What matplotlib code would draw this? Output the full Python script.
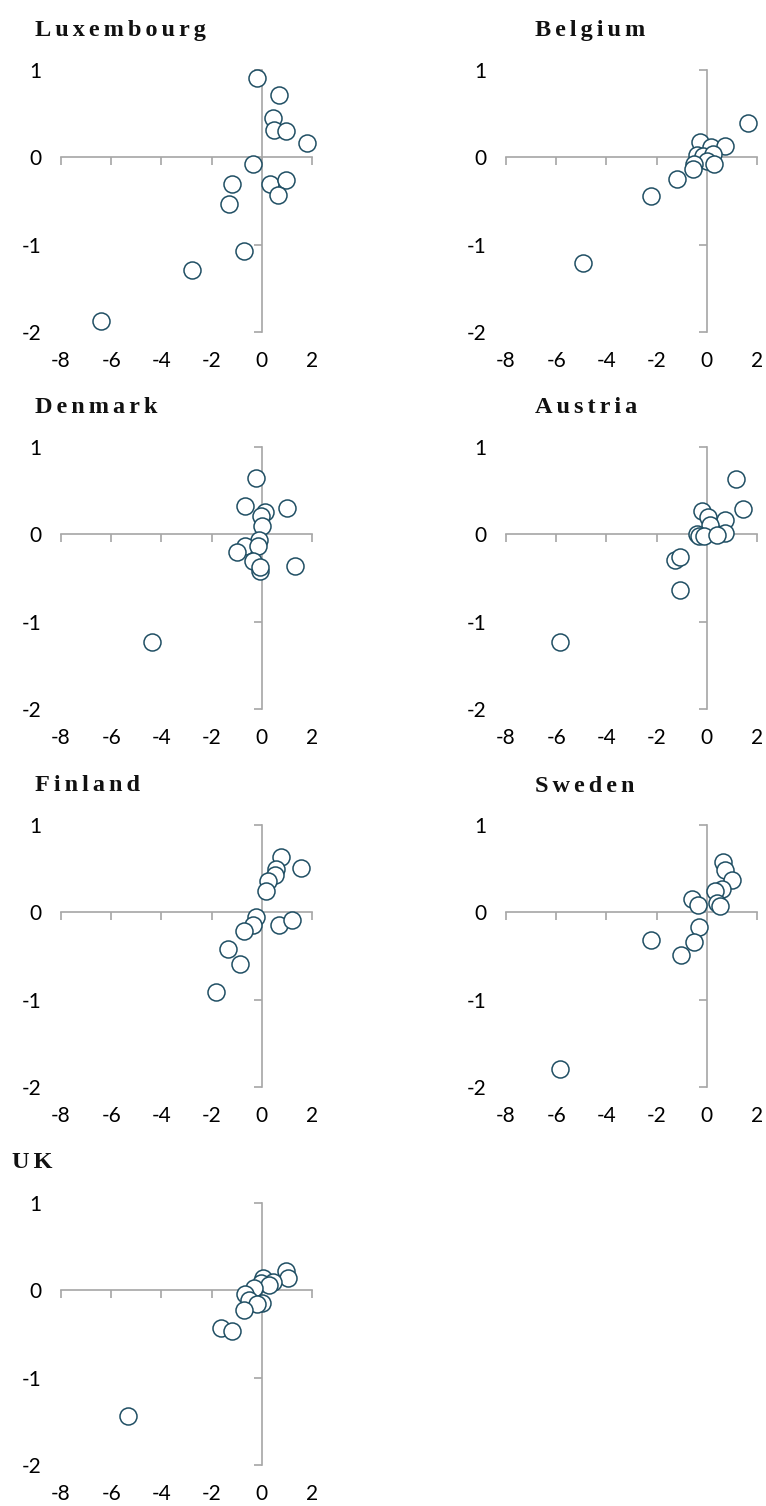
import numpy as np
import matplotlib.pyplot as plt

plt.rcParams['axes.unicode_minus'] = False

# data (x, y per country)
countries = ['Luxembourg', 'Belgium', 'Denmark', 'Austria', 'Finland', 'Sweden', 'UK']

lux_x = [-0.19, 0.70, 0.46, 0.50, 0.97, 1.82, -0.36, -1.19, 0.34, 0.97, 0.66, -1.29, -0.72, -2.79, -6.42]
lux_y = [0.91, 0.71, 0.45, 0.31, 0.30, 0.16, -0.08, -0.30, -0.31, -0.26, -0.43, -0.54, -1.07, -1.29, -1.87]

bel_x = [1.63, -0.28, 0.15, 0.73, -0.41, -0.15, 0.25, -0.01, 0.29, -0.52, -0.54, -1.20, -2.22, -4.95]
bel_y = [0.39, 0.18, 0.12, 0.13, 0.03, 0.02, 0.04, -0.04, -0.08, -0.08, -0.13, -0.25, -0.44, -1.21]

den_x = [-0.25, -0.68, 0.12, 1.01, -0.04, 0.01, -0.11, -0.65, -0.17, -0.97, -0.34, -0.08, -0.08, 1.31, -4.39]
den_y = [0.64, 0.33, 0.26, 0.30, 0.21, 0.09, -0.06, -0.13, -0.13, -0.20, -0.31, -0.42, -0.37, -0.36, -1.23]

aut_x = [1.16, 1.45, -0.21, 0.03, 0.72, 0.12, 0.74, -0.41, -0.31, -0.12, 0.39, -1.25, -1.08, -1.06, -5.84]
aut_y = [0.63, 0.29, 0.27, 0.20, 0.16, 0.11, 0.02, 0.00, -0.02, -0.02, -0.01, -0.29, -0.26, -0.64, -1.23]

fin_x = [0.76, 1.56, 0.56, 0.52, 0.23, 0.17, -0.25, -0.34, -0.70, 0.69, 1.22, -1.33, -0.85, -1.82]
fin_y = [0.63, 0.51, 0.50, 0.43, 0.36, 0.25, -0.05, -0.15, -0.21, -0.14, -0.09, -0.42, -0.59, -0.91]

swe_x = [0.65, 0.74, 1.00, 0.62, 0.32, -0.58, -0.35, 0.39, 0.52, -0.32, -0.50, -1.01, -2.23, -5.86]
swe_y = [0.58, 0.48, 0.37, 0.27, 0.24, 0.15, 0.08, 0.11, 0.07, -0.17, -0.34, -0.49, -0.32, -1.79]

uk_x = [0.97, 1.06, 0.03, 0.45, -0.04, 0.28, -0.32, -0.65, -0.50, 0.01, -0.19, -0.70, -1.64, -1.19, -5.33]
uk_y = [0.22, 0.14, 0.14, 0.10, 0.08, 0.06, 0.03, -0.04, -0.11, -0.14, -0.16, -0.23, -0.43, -0.46, -1.44]

xs = [lux_x, bel_x, den_x, aut_x, fin_x, swe_x, uk_x]
ys = [lux_y, bel_y, den_y, aut_y, fin_y, swe_y, uk_y]

x_ticks = [-8, -6, -4, -2, 0, 2]
y_ticks = [-2, -1, 0, 1]

W, H = 766, 1506
fig = plt.figure(figsize=(W / 100, H / 100), dpi=100)

axis_col = '#a6a6a6'
edge_col = '#1f4e63'
tick_font = ['Lato', 'DejaVu Sans']
title_font = ['Liberation Serif', 'DejaVu Serif']

# axes boxes in pixels: left, top of y=1
col_left = [61, 506]
row_top = [70, 447, 825, 1203]
ax_w, ax_h = 251, 262
title_pos = [(35, 36), (535, 36), (35, 413), (535, 413), (35, 791), (535, 792), (12, 1168)]

for i, name in enumerate(countries):
    r, c = divmod(i, 2)
    rect = [col_left[c] / W, 1 - (row_top[r] + ax_h) / H, ax_w / W, ax_h / H]

    # labels layer (labels at the outer edges, no lines)
    lab = fig.add_axes(rect, frameon=False)
    lab.set_xlim(-8, 2)
    lab.set_ylim(-2, 1)
    lab.set_xticks(x_ticks)
    lab.set_yticks(y_ticks)
    lab.tick_params(length=0, pad=14, labelsize=15, labelcolor='#000000')
    for t in lab.get_xticklabels() + lab.get_yticklabels():
        t.set_family(tick_font)

    # crossing axes with the points
    ax = fig.add_axes(rect, frameon=True)
    ax.patch.set_alpha(0)
    ax.set_xlim(-8, 2)
    ax.set_ylim(-2, 1)
    for s in ['top', 'right']:
        ax.spines[s].set_visible(False)
    ax.spines['left'].set_position(('data', 0))
    ax.spines['bottom'].set_position(('data', 0))
    for s in ['left', 'bottom']:
        ax.spines[s].set_color(axis_col)
        ax.spines[s].set_linewidth(1.2)
    ax.set_xticks(x_ticks)
    ax.set_yticks([-2, -1, 1])
    ax.tick_params(direction='out', length=6, width=1.2, color=axis_col,
                   labelleft=False, labelbottom=False)
    ax.scatter(xs[i], ys[i], s=150, facecolors='white', edgecolors=edge_col,
               linewidths=1.1, zorder=3, clip_on=False)

    tx, ty = title_pos[i]
    fig.text(tx / W, 1 - ty / H, '\u2006'.join(name), ha='left', va='baseline',
             fontsize=17.5, fontweight='bold', family=title_font, color='#111111')

fig.savefig('out.png', dpi=100)
